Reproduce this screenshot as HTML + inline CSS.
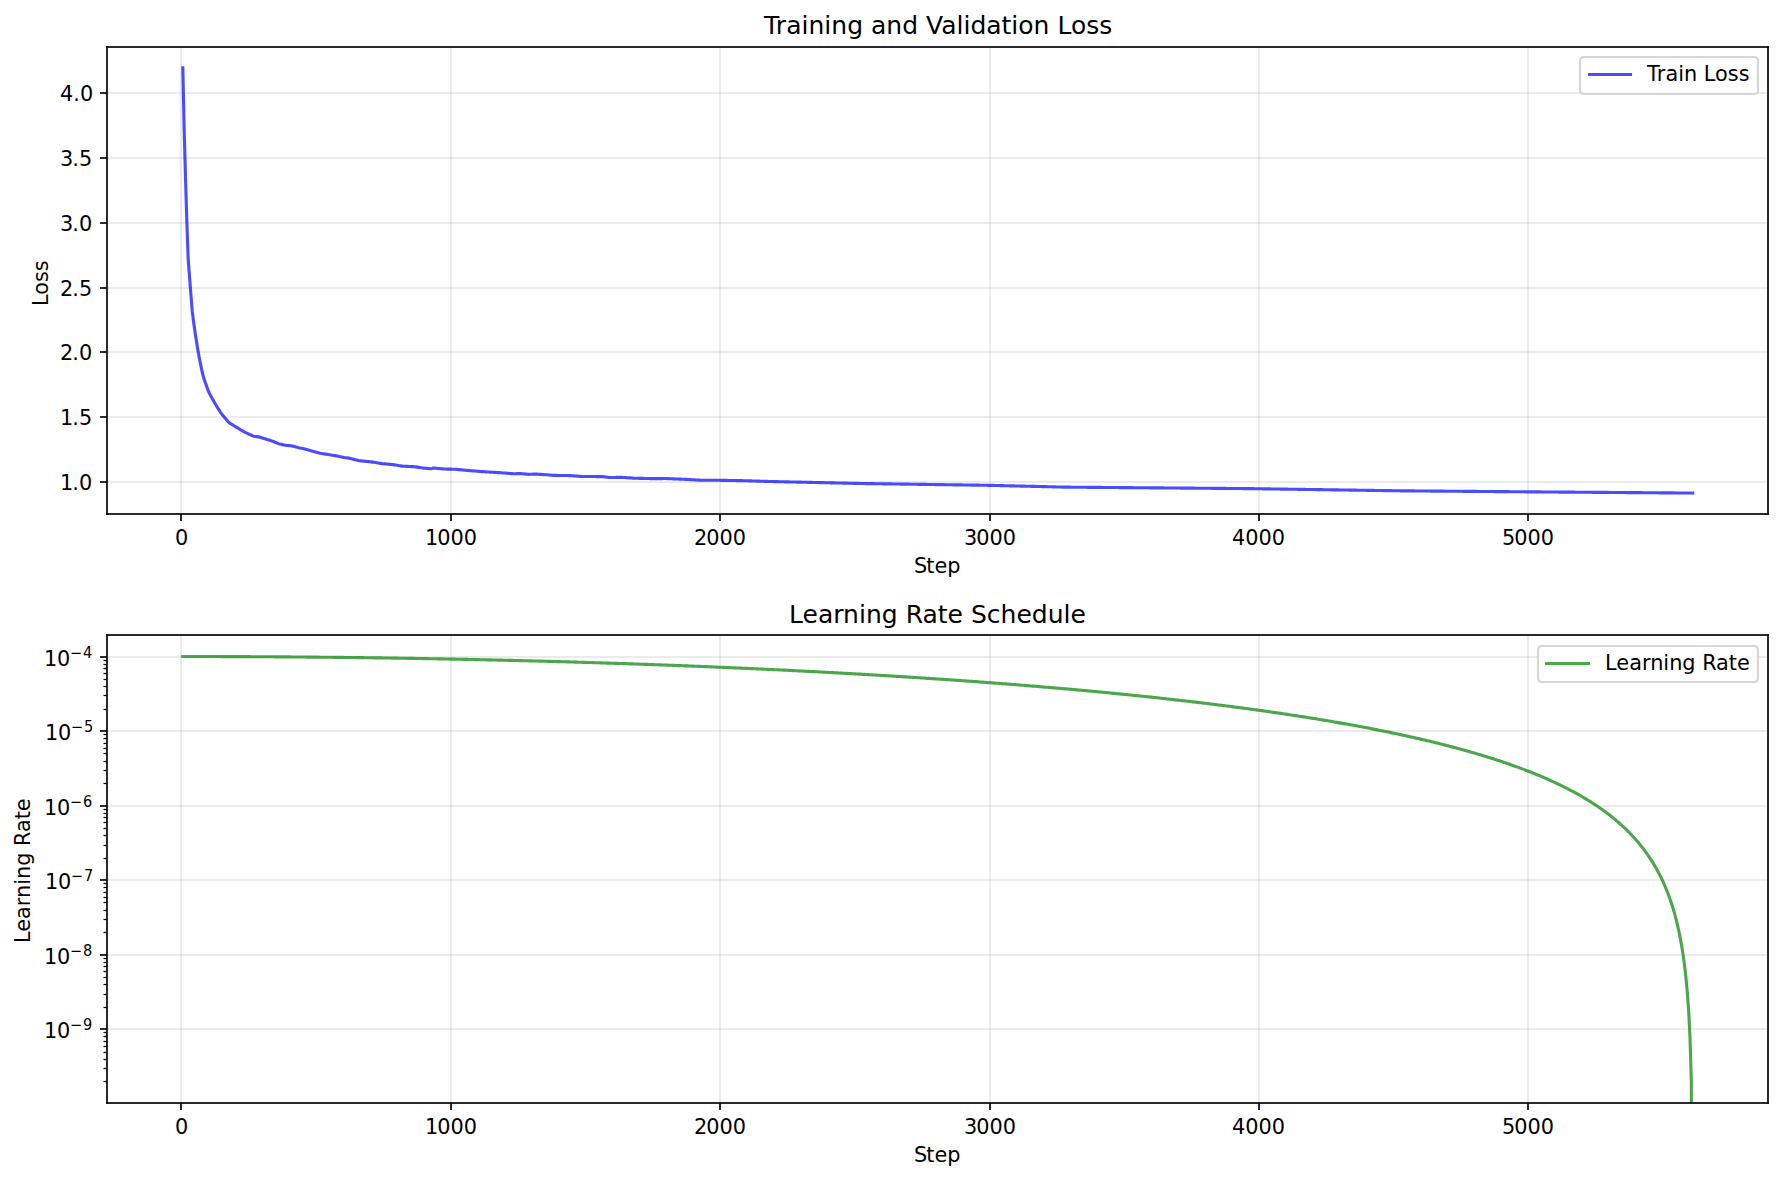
<!DOCTYPE html>
<html lang="en"><head><meta charset="utf-8"><title>Training curves</title>
<style>
html,body{margin:0;padding:0;background:#fff}
body{width:1783px;height:1181px;overflow:hidden}
svg{display:block}
text{font-family:"DejaVu Sans","Liberation Sans",sans-serif;fill:#000}
.t{font-size:20.8333px}
.tt{font-size:25.0000px}
.sup{font-size:14.5833px}
</style></head><body>
<svg width="1783" height="1181" viewBox="0 0 1783 1181">
<rect x="0" y="0" width="1783" height="1181" fill="#ffffff"/>
<defs><clipPath id="c1"><rect x="107.339" y="46.500" width="1660.839" height="467.833"/></clipPath><clipPath id="c2"><rect x="107.339" y="635.250" width="1660.839" height="467.833"/></clipPath></defs>
<g id="axes1">
<g stroke="#b0b0b0" stroke-opacity="0.3" stroke-width="1.6667" fill="none" clip-path="url(#c1)">
<line x1="181" y1="514" x2="181" y2="47"/><line x1="451" y1="514" x2="451" y2="47"/><line x1="720" y1="514" x2="720" y2="47"/><line x1="990" y1="514" x2="990" y2="47"/><line x1="1259" y1="514" x2="1259" y2="47"/><line x1="1528" y1="514" x2="1528" y2="47"/><rect x="107" y="92.1667" width="1661" height="1.6667" fill="#b0b0b0" fill-opacity="0.3" stroke="none"/><rect x="107" y="157.1667" width="1661" height="1.6667" fill="#b0b0b0" fill-opacity="0.3" stroke="none"/><rect x="107" y="222.1667" width="1661" height="1.6667" fill="#b0b0b0" fill-opacity="0.3" stroke="none"/><rect x="107" y="287.1667" width="1661" height="1.6667" fill="#b0b0b0" fill-opacity="0.3" stroke="none"/><rect x="107" y="351.1667" width="1661" height="1.6667" fill="#b0b0b0" fill-opacity="0.3" stroke="none"/><rect x="107" y="416.1667" width="1661" height="1.6667" fill="#b0b0b0" fill-opacity="0.3" stroke="none"/><rect x="107" y="481.1667" width="1661" height="1.6667" fill="#b0b0b0" fill-opacity="0.3" stroke="none"/>
</g>
<g stroke="#000" stroke-width="1.6667" fill="none">
<line x1="181" y1="514" x2="181" y2="521"/><line x1="451" y1="514" x2="451" y2="521"/><line x1="720" y1="514" x2="720" y2="521"/><line x1="990" y1="514" x2="990" y2="521"/><line x1="1259" y1="514" x2="1259" y2="521"/><line x1="1528" y1="514" x2="1528" y2="521"/><line x1="100" y1="93" x2="107" y2="93"/><line x1="100" y1="158" x2="107" y2="158"/><line x1="100" y1="223" x2="107" y2="223"/><line x1="100" y1="288" x2="107" y2="288"/><line x1="100" y1="352" x2="107" y2="352"/><line x1="100" y1="417" x2="107" y2="417"/><line x1="100" y1="482" x2="107" y2="482"/>
</g>
<g class="t">
<text x="175.000" y="544.90">0</text><text x="425.000 437.250 450.500 463.750" y="544.90">1000</text><text x="694.000 706.250 719.500 732.750" y="544.90">2000</text><text x="964.000 976.250 989.500 1002.750" y="544.90">3000</text><text x="1232.000 1245.250 1258.500 1271.750" y="544.90">4000</text><text x="1502.000 1514.250 1527.500 1540.750" y="544.90">5000</text>
<text x="60.000 73.250 79.875" y="100.90">4.0</text><text x="60.000 72.250 78.875" y="165.90">3.5</text><text x="60.000 72.250 78.875" y="230.90">3.0</text><text x="60.000 72.250 78.875" y="295.90">2.5</text><text x="60.000 72.250 78.875" y="359.90">2.0</text><text x="60.000 72.250 78.875" y="424.90">1.5</text><text x="60.000 72.250 78.875" y="489.90">1.0</text>
</g>
<path d="M182.83 67.77 L184.18 130.51 L185.53 178.53 L186.87 222.43 L188.22 259.98 L189.57 277.31 L190.91 294.70 L192.26 311.40 L193.61 322.10 L194.95 331.48 L196.30 340.34 L197.65 348.70 L198.99 356.17 L200.34 363.02 L201.69 369.59 L203.04 375.41 L204.38 380.03 L205.73 383.80 L207.08 387.55 L208.42 391.13 L209.77 394.09 L211.12 396.51 L212.46 398.93 L213.81 401.35 L215.16 403.77 L216.50 405.93 L217.85 408.05 L219.20 410.17 L220.54 412.30 L221.89 414.17 L223.24 415.79 L224.59 417.42 L225.93 419.05 L227.28 420.67 L228.63 422.30 L229.97 423.28 L231.32 424.10 L232.67 424.92 L234.01 425.73 L235.36 426.55 L236.71 427.37 L238.05 428.18 L239.40 428.99 L240.75 429.79 L242.09 430.59 L243.44 431.40 L244.79 432.20 L246.14 432.84 L247.48 433.45 L248.83 434.06 L250.18 434.67 L251.52 435.28 L252.87 435.89 L254.22 436.25 L255.56 436.45 L256.91 436.66 L258.26 436.86 L259.60 437.10 L260.95 437.53 L262.30 437.96 L263.64 438.40 L264.99 438.83 L266.34 439.25 L267.69 439.66 L269.03 440.07 L270.38 440.48 L271.73 440.89 L273.07 441.38 L274.42 441.95 L275.77 442.53 L277.11 443.11 L278.46 443.68 L279.81 444.05 L281.15 444.35 L282.50 444.65 L283.85 444.94 L285.19 445.24 L286.54 445.41 L287.89 445.53 L289.24 445.65 L290.58 445.77 L291.93 445.89 L293.28 446.18 L294.62 446.57 L295.97 446.96 L297.32 447.35 L298.66 447.70 L300.01 447.98 L301.36 448.25 L302.70 448.53 L304.05 448.80 L305.40 449.17 L306.75 449.54 L308.09 449.92 L309.44 450.29 L310.79 450.67 L312.13 451.05 L313.48 451.42 L314.83 451.80 L316.17 452.18 L317.52 452.55 L318.87 452.93 L320.21 453.31 L321.56 453.51 L322.91 453.71 L324.25 453.90 L325.60 454.10 L326.95 454.29 L328.30 454.50 L329.64 454.73 L330.99 454.96 L332.34 455.19 L333.68 455.43 L335.03 455.66 L336.38 455.89 L337.72 456.14 L339.07 456.44 L340.42 456.73 L341.76 457.03 L343.11 457.32 L344.46 457.61 L345.80 457.78 L347.15 457.87 L348.50 458.03 L349.85 458.37 L351.19 458.71 L352.54 459.05 L353.89 459.39 L355.23 459.73 L356.58 460.07 L357.93 460.41 L359.27 460.74 L360.62 460.86 L361.97 460.98 L363.31 461.10 L364.66 461.22 L366.01 461.34 L367.35 461.46 L368.70 461.59 L370.05 461.71 L371.40 461.90 L372.74 462.11 L374.09 462.33 L375.44 462.54 L376.78 462.75 L378.13 462.96 L379.48 463.17 L380.82 463.38 L382.17 463.59 L383.52 463.74 L384.86 463.87 L386.21 464.00 L387.56 464.14 L388.90 464.27 L390.25 464.40 L391.60 464.53 L392.95 464.67 L394.29 464.84 L395.64 465.05 L396.99 465.26 L398.33 465.47 L399.68 465.68 L401.03 465.89 L402.37 466.10 L403.72 466.19 L405.07 466.25 L406.41 466.32 L407.76 466.39 L409.11 466.45 L410.45 466.52 L411.80 466.59 L413.15 466.65 L414.50 466.72 L415.84 466.91 L417.19 467.13 L418.54 467.35 L419.88 467.56 L421.23 467.78 L422.58 467.99 L423.92 468.14 L425.27 468.27 L426.62 468.41 L427.96 468.54 L429.31 468.67 L430.66 468.81 L432.00 468.48 L433.35 468.05 L434.70 468.15 L436.05 468.28 L437.39 468.41 L438.74 468.53 L440.09 468.66 L441.43 468.79 L442.78 468.92 L444.13 469.03 L445.47 469.06 L446.82 469.09 L448.17 469.11 L449.51 469.14 L450.86 469.17 L452.21 469.19 L453.56 469.22 L454.90 469.30 L456.25 469.43 L457.60 469.55 L458.94 469.67 L460.29 469.79 L461.64 469.92 L462.98 470.04 L464.33 470.16 L465.68 470.28 L467.02 470.40 L468.37 470.50 L469.72 470.61 L471.06 470.72 L472.41 470.82 L473.76 470.93 L475.11 471.04 L476.45 471.14 L477.80 471.25 L479.15 471.36 L480.49 471.46 L481.84 471.57 L483.19 471.68 L484.53 471.78 L485.88 471.89 L487.23 471.98 L488.57 472.05 L489.92 472.12 L491.27 472.20 L492.61 472.27 L493.96 472.35 L495.31 472.42 L496.66 472.50 L498.00 472.57 L499.35 472.64 L500.70 472.73 L502.04 472.84 L503.39 472.94 L504.74 473.05 L506.08 473.15 L507.43 473.26 L508.78 473.36 L510.12 473.47 L511.47 473.57 L512.82 473.68 L514.16 473.72 L515.51 473.70 L516.86 473.68 L518.21 473.66 L519.55 473.65 L520.90 473.66 L522.25 473.77 L523.59 473.89 L524.94 474.01 L526.29 474.12 L527.63 474.24 L528.98 474.32 L530.33 474.27 L531.67 474.23 L533.02 474.18 L534.37 474.13 L535.71 474.09 L537.06 474.16 L538.41 474.25 L539.76 474.34 L541.10 474.43 L542.45 474.52 L543.80 474.61 L545.14 474.70 L546.49 474.80 L547.84 474.91 L549.18 475.01 L550.53 475.12 L551.88 475.22 L553.22 475.33 L554.57 475.39 L555.92 475.41 L557.26 475.42 L558.61 475.44 L559.96 475.46 L561.31 475.47 L562.65 475.49 L564.00 475.51 L565.35 475.52 L566.69 475.54 L568.04 475.56 L569.39 475.57 L570.73 475.64 L572.08 475.74 L573.43 475.85 L574.77 475.96 L576.12 476.06 L577.47 476.17 L578.82 476.27 L580.16 476.38 L581.51 476.43 L582.86 476.44 L584.20 476.45 L585.55 476.46 L586.90 476.46 L588.24 476.47 L589.59 476.48 L590.94 476.50 L592.28 476.52 L593.63 476.54 L594.98 476.56 L596.32 476.58 L597.67 476.60 L599.02 476.62 L600.37 476.64 L601.71 476.66 L603.06 476.68 L604.41 476.83 L605.75 477.00 L607.10 477.18 L608.45 477.35 L609.79 477.48 L611.14 477.47 L612.49 477.46 L613.83 477.45 L615.18 477.44 L616.53 477.42 L617.87 477.41 L619.22 477.40 L620.57 477.39 L621.92 477.38 L623.26 477.46 L624.61 477.55 L625.96 477.64 L627.30 477.73 L628.65 477.83 L630.00 477.92 L631.34 478.01 L632.69 478.10 L634.04 478.19 L635.38 478.25 L636.73 478.28 L638.08 478.31 L639.42 478.34 L640.77 478.37 L642.12 478.40 L643.47 478.43 L644.81 478.46 L646.16 478.49 L647.51 478.52 L648.85 478.54 L650.20 478.57 L651.55 478.60 L652.89 478.63 L654.24 478.66 L655.59 478.67 L656.93 478.65 L658.28 478.63 L659.63 478.62 L660.97 478.60 L662.32 478.58 L663.67 478.56 L665.02 478.54 L666.36 478.55 L667.71 478.61 L669.06 478.66 L670.40 478.72 L671.75 478.78 L673.10 478.83 L674.44 478.89 L675.79 478.94 L677.14 479.00 L678.48 479.05 L679.83 479.11 L681.18 479.16 L682.52 479.22 L683.87 479.28 L685.22 479.33 L686.57 479.39 L687.91 479.47 L689.26 479.55 L690.61 479.63 L691.95 479.71 L693.30 479.79 L694.65 479.87 L695.99 479.95 L697.34 480.03 L698.69 480.11 L700.03 480.18 L701.38 480.19 L702.73 480.19 L704.08 480.20 L705.42 480.21 L706.77 480.22 L708.12 480.22 L709.46 480.23 L710.81 480.24 L712.16 480.24 L713.50 480.25 L714.85 480.26 L716.20 480.26 L717.54 480.27 L718.89 480.28 L720.24 480.29 L721.58 480.32 L722.93 480.34 L724.28 480.36 L725.63 480.39 L726.97 480.41 L728.32 480.44 L729.67 480.46 L731.01 480.48 L732.36 480.51 L733.71 480.53 L735.05 480.56 L736.40 480.58 L737.75 480.60 L739.09 480.63 L740.44 480.65 L741.79 480.68 L743.13 480.70 L744.48 480.72 L745.83 480.76 L747.18 480.80 L748.52 480.84 L749.87 480.88 L751.22 480.92 L752.56 480.96 L753.91 481.00 L755.26 481.04 L756.60 481.08 L757.95 481.12 L759.30 481.16 L760.64 481.20 L761.99 481.24 L763.34 481.28 L764.68 481.32 L766.03 481.36 L767.38 481.40 L768.73 481.44 L770.07 481.48 L771.42 481.52 L772.77 481.55 L774.11 481.58 L775.46 481.61 L776.81 481.64 L778.15 481.67 L779.50 481.70 L780.85 481.73 L782.19 481.76 L783.54 481.79 L784.89 481.82 L786.23 481.85 L787.58 481.88 L788.93 481.91 L790.28 481.94 L791.62 481.97 L792.97 482.00 L794.32 482.03 L795.66 482.06 L797.01 482.09 L798.36 482.12 L799.70 482.14 L801.05 482.17 L802.40 482.20 L803.74 482.23 L805.09 482.26 L806.44 482.29 L807.78 482.32 L809.13 482.35 L810.48 482.38 L811.83 482.41 L813.17 482.44 L814.52 482.47 L815.87 482.50 L817.21 482.53 L818.56 482.56 L819.91 482.59 L821.25 482.62 L822.60 482.65 L823.95 482.68 L825.29 482.71 L826.64 482.73 L827.99 482.76 L829.33 482.79 L830.68 482.82 L832.03 482.85 L833.38 482.88 L834.72 482.91 L836.07 482.94 L837.42 482.97 L838.76 483.00 L840.11 483.03 L841.46 483.06 L842.80 483.09 L844.15 483.12 L845.50 483.15 L846.84 483.18 L848.19 483.21 L849.54 483.24 L850.89 483.27 L852.23 483.29 L853.58 483.32 L854.93 483.35 L856.27 483.38 L857.62 483.41 L858.97 483.44 L860.31 483.47 L861.66 483.50 L863.01 483.53 L864.35 483.55 L865.70 483.57 L867.05 483.59 L868.39 483.61 L869.74 483.63 L871.09 483.65 L872.44 483.66 L873.78 483.68 L875.13 483.70 L876.48 483.72 L877.82 483.74 L879.17 483.76 L880.52 483.78 L881.86 483.80 L883.21 483.82 L884.56 483.84 L885.90 483.86 L887.25 483.88 L888.60 483.90 L889.94 483.91 L891.29 483.93 L892.64 483.95 L893.99 483.97 L895.33 483.99 L896.68 484.01 L898.03 484.03 L899.37 484.05 L900.72 484.07 L902.07 484.09 L903.41 484.11 L904.76 484.13 L906.11 484.14 L907.45 484.16 L908.80 484.18 L910.15 484.20 L911.49 484.22 L912.84 484.24 L914.19 484.26 L915.54 484.28 L916.88 484.30 L918.23 484.32 L919.58 484.34 L920.92 484.36 L922.27 484.38 L923.62 484.39 L924.96 484.41 L926.31 484.43 L927.66 484.45 L929.00 484.47 L930.35 484.49 L931.70 484.51 L933.04 484.53 L934.39 484.55 L935.74 484.57 L937.09 484.59 L938.43 484.61 L939.78 484.62 L941.13 484.64 L942.47 484.66 L943.82 484.68 L945.17 484.70 L946.51 484.72 L947.86 484.74 L949.21 484.76 L950.55 484.78 L951.90 484.80 L953.25 484.82 L954.59 484.84 L955.94 484.85 L957.29 484.87 L958.64 484.89 L959.98 484.91 L961.33 484.93 L962.68 484.95 L964.02 484.97 L965.37 484.99 L966.72 485.01 L968.06 485.03 L969.41 485.05 L970.76 485.07 L972.10 485.09 L973.45 485.10 L974.80 485.12 L976.15 485.14 L977.49 485.16 L978.84 485.18 L980.19 485.20 L981.53 485.22 L982.88 485.24 L984.23 485.26 L985.57 485.28 L986.92 485.30 L988.27 485.32 L989.61 485.34 L990.96 485.37 L992.31 485.40 L993.65 485.43 L995.00 485.47 L996.35 485.50 L997.70 485.53 L999.04 485.56 L1000.39 485.59 L1001.74 485.63 L1003.08 485.66 L1004.43 485.69 L1005.78 485.72 L1007.12 485.75 L1008.47 485.79 L1009.82 485.82 L1011.16 485.85 L1012.51 485.88 L1013.86 485.91 L1015.20 485.95 L1016.55 485.98 L1017.90 486.01 L1019.25 486.04 L1020.59 486.07 L1021.94 486.11 L1023.29 486.14 L1024.63 486.17 L1025.98 486.20 L1027.33 486.23 L1028.67 486.27 L1030.02 486.30 L1031.37 486.33 L1032.71 486.36 L1034.06 486.39 L1035.41 486.43 L1036.75 486.46 L1038.10 486.49 L1039.45 486.52 L1040.80 486.55 L1042.14 486.59 L1043.49 486.62 L1044.84 486.65 L1046.18 486.68 L1047.53 486.71 L1048.88 486.75 L1050.22 486.78 L1051.57 486.81 L1052.92 486.84 L1054.26 486.88 L1055.61 486.91 L1056.96 486.94 L1058.30 486.97 L1059.65 487.00 L1061.00 487.04 L1062.35 487.07 L1063.69 487.10 L1065.04 487.13 L1066.39 487.14 L1067.73 487.15 L1069.08 487.16 L1070.43 487.17 L1071.77 487.19 L1073.12 487.20 L1074.47 487.21 L1075.81 487.22 L1077.16 487.23 L1078.51 487.24 L1079.85 487.25 L1081.20 487.26 L1082.55 487.27 L1083.90 487.28 L1085.24 487.29 L1086.59 487.31 L1087.94 487.32 L1089.28 487.33 L1090.63 487.34 L1091.98 487.35 L1093.32 487.36 L1094.67 487.37 L1096.02 487.38 L1097.36 487.39 L1098.71 487.40 L1100.06 487.41 L1101.41 487.43 L1102.75 487.44 L1104.10 487.45 L1105.45 487.46 L1106.79 487.47 L1108.14 487.48 L1109.49 487.49 L1110.83 487.50 L1112.18 487.51 L1113.53 487.52 L1114.87 487.53 L1116.22 487.55 L1117.57 487.56 L1118.91 487.57 L1120.26 487.58 L1121.61 487.59 L1122.96 487.60 L1124.30 487.61 L1125.65 487.62 L1127.00 487.63 L1128.34 487.64 L1129.69 487.65 L1131.04 487.67 L1132.38 487.68 L1133.73 487.69 L1135.08 487.70 L1136.42 487.71 L1137.77 487.72 L1139.12 487.73 L1140.46 487.74 L1141.81 487.75 L1143.16 487.76 L1144.51 487.77 L1145.85 487.79 L1147.20 487.80 L1148.55 487.81 L1149.89 487.82 L1151.24 487.83 L1152.59 487.84 L1153.93 487.85 L1155.28 487.86 L1156.63 487.87 L1157.97 487.88 L1159.32 487.90 L1160.67 487.91 L1162.01 487.92 L1163.36 487.93 L1164.71 487.94 L1166.06 487.95 L1167.40 487.96 L1168.75 487.97 L1170.10 487.98 L1171.44 487.99 L1172.79 488.00 L1174.14 488.02 L1175.48 488.03 L1176.83 488.04 L1178.18 488.05 L1179.52 488.06 L1180.87 488.07 L1182.22 488.08 L1183.56 488.09 L1184.91 488.10 L1186.26 488.11 L1187.61 488.12 L1188.95 488.14 L1190.30 488.15 L1191.65 488.16 L1192.99 488.17 L1194.34 488.18 L1195.69 488.19 L1197.03 488.20 L1198.38 488.21 L1199.73 488.22 L1201.07 488.23 L1202.42 488.24 L1203.77 488.26 L1205.11 488.27 L1206.46 488.28 L1207.81 488.29 L1209.16 488.30 L1210.50 488.31 L1211.85 488.32 L1213.20 488.33 L1214.54 488.34 L1215.89 488.35 L1217.24 488.36 L1218.58 488.38 L1219.93 488.39 L1221.28 488.40 L1222.62 488.41 L1223.97 488.42 L1225.32 488.43 L1226.67 488.44 L1228.01 488.45 L1229.36 488.46 L1230.71 488.47 L1232.05 488.48 L1233.40 488.50 L1234.75 488.51 L1236.09 488.52 L1237.44 488.53 L1238.79 488.54 L1240.13 488.55 L1241.48 488.56 L1242.83 488.57 L1244.17 488.58 L1245.52 488.59 L1246.87 488.60 L1248.22 488.62 L1249.56 488.63 L1250.91 488.64 L1252.26 488.66 L1253.60 488.68 L1254.95 488.70 L1256.30 488.72 L1257.64 488.74 L1258.99 488.76 L1260.34 488.78 L1261.68 488.80 L1263.03 488.82 L1264.38 488.84 L1265.72 488.86 L1267.07 488.88 L1268.42 488.90 L1269.77 488.92 L1271.11 488.94 L1272.46 488.96 L1273.81 488.98 L1275.15 489.00 L1276.50 489.02 L1277.85 489.03 L1279.19 489.05 L1280.54 489.07 L1281.89 489.09 L1283.23 489.11 L1284.58 489.13 L1285.93 489.15 L1287.27 489.17 L1288.62 489.19 L1289.97 489.21 L1291.32 489.23 L1292.66 489.25 L1294.01 489.27 L1295.36 489.29 L1296.70 489.31 L1298.05 489.33 L1299.40 489.35 L1300.74 489.37 L1302.09 489.39 L1303.44 489.41 L1304.78 489.43 L1306.13 489.45 L1307.48 489.47 L1308.82 489.49 L1310.17 489.50 L1311.52 489.52 L1312.87 489.54 L1314.21 489.56 L1315.56 489.58 L1316.91 489.60 L1318.25 489.62 L1319.60 489.64 L1320.95 489.66 L1322.29 489.68 L1323.64 489.70 L1324.99 489.72 L1326.33 489.74 L1327.68 489.76 L1329.03 489.78 L1330.37 489.80 L1331.72 489.82 L1333.07 489.84 L1334.42 489.86 L1335.76 489.88 L1337.11 489.90 L1338.46 489.92 L1339.80 489.94 L1341.15 489.95 L1342.50 489.97 L1343.84 489.99 L1345.19 490.01 L1346.54 490.03 L1347.88 490.05 L1349.23 490.07 L1350.58 490.09 L1351.92 490.11 L1353.27 490.13 L1354.62 490.15 L1355.97 490.17 L1357.31 490.19 L1358.66 490.21 L1360.01 490.23 L1361.35 490.25 L1362.70 490.27 L1364.05 490.29 L1365.39 490.31 L1366.74 490.33 L1368.09 490.35 L1369.43 490.37 L1370.78 490.39 L1372.13 490.40 L1373.48 490.42 L1374.82 490.44 L1376.17 490.46 L1377.52 490.48 L1378.86 490.50 L1380.21 490.52 L1381.56 490.54 L1382.90 490.56 L1384.25 490.58 L1385.60 490.60 L1386.94 490.62 L1388.29 490.64 L1389.64 490.66 L1390.98 490.68 L1392.33 490.70 L1393.68 490.72 L1395.03 490.74 L1396.37 490.76 L1397.72 490.78 L1399.07 490.80 L1400.41 490.82 L1401.76 490.83 L1403.11 490.84 L1404.45 490.85 L1405.80 490.87 L1407.15 490.88 L1408.49 490.89 L1409.84 490.90 L1411.19 490.91 L1412.53 490.92 L1413.88 490.93 L1415.23 490.94 L1416.58 490.95 L1417.92 490.96 L1419.27 490.97 L1420.62 490.98 L1421.96 490.99 L1423.31 491.00 L1424.66 491.01 L1426.00 491.03 L1427.35 491.04 L1428.70 491.05 L1430.04 491.06 L1431.39 491.07 L1432.74 491.08 L1434.08 491.09 L1435.43 491.10 L1436.78 491.11 L1438.13 491.12 L1439.47 491.13 L1440.82 491.14 L1442.17 491.15 L1443.51 491.16 L1444.86 491.17 L1446.21 491.19 L1447.55 491.20 L1448.90 491.21 L1450.25 491.22 L1451.59 491.23 L1452.94 491.24 L1454.29 491.25 L1455.63 491.26 L1456.98 491.27 L1458.33 491.28 L1459.68 491.29 L1461.02 491.30 L1462.37 491.31 L1463.72 491.32 L1465.06 491.33 L1466.41 491.35 L1467.76 491.36 L1469.10 491.37 L1470.45 491.38 L1471.80 491.39 L1473.14 491.40 L1474.49 491.41 L1475.84 491.42 L1477.18 491.43 L1478.53 491.44 L1479.88 491.45 L1481.23 491.46 L1482.57 491.47 L1483.92 491.48 L1485.27 491.49 L1486.61 491.51 L1487.96 491.52 L1489.31 491.53 L1490.65 491.54 L1492.00 491.55 L1493.35 491.56 L1494.69 491.57 L1496.04 491.58 L1497.39 491.59 L1498.74 491.60 L1500.08 491.61 L1501.43 491.62 L1502.78 491.63 L1504.12 491.64 L1505.47 491.65 L1506.82 491.67 L1508.16 491.68 L1509.51 491.69 L1510.86 491.70 L1512.20 491.71 L1513.55 491.72 L1514.90 491.73 L1516.24 491.74 L1517.59 491.75 L1518.94 491.76 L1520.29 491.77 L1521.63 491.78 L1522.98 491.79 L1524.33 491.80 L1525.67 491.82 L1527.02 491.83 L1528.37 491.84 L1529.71 491.85 L1531.06 491.86 L1532.41 491.87 L1533.75 491.88 L1535.10 491.89 L1536.45 491.90 L1537.79 491.91 L1539.14 491.92 L1540.49 491.93 L1541.84 491.94 L1543.18 491.95 L1544.53 491.96 L1545.88 491.97 L1547.22 491.98 L1548.57 491.99 L1549.92 492.00 L1551.26 492.01 L1552.61 492.02 L1553.96 492.03 L1555.30 492.04 L1556.65 492.05 L1558.00 492.06 L1559.34 492.07 L1560.69 492.08 L1562.04 492.09 L1563.39 492.10 L1564.73 492.11 L1566.08 492.12 L1567.43 492.13 L1568.77 492.14 L1570.12 492.15 L1571.47 492.16 L1572.81 492.17 L1574.16 492.18 L1575.51 492.19 L1576.85 492.20 L1578.20 492.21 L1579.55 492.22 L1580.89 492.23 L1582.24 492.24 L1583.59 492.25 L1584.94 492.26 L1586.28 492.27 L1587.63 492.28 L1588.98 492.29 L1590.32 492.30 L1591.67 492.31 L1593.02 492.32 L1594.36 492.33 L1595.71 492.34 L1597.06 492.35 L1598.40 492.36 L1599.75 492.37 L1601.10 492.38 L1602.44 492.39 L1603.79 492.40 L1605.14 492.41 L1606.49 492.42 L1607.83 492.43 L1609.18 492.44 L1610.53 492.45 L1611.87 492.46 L1613.22 492.47 L1614.57 492.48 L1615.91 492.49 L1617.26 492.50 L1618.61 492.51 L1619.95 492.52 L1621.30 492.53 L1622.65 492.54 L1624.00 492.55 L1625.34 492.56 L1626.69 492.57 L1628.04 492.58 L1629.38 492.59 L1630.73 492.60 L1632.08 492.61 L1633.42 492.62 L1634.77 492.63 L1636.12 492.64 L1637.46 492.65 L1638.81 492.66 L1640.16 492.67 L1641.50 492.68 L1642.85 492.69 L1644.20 492.70 L1645.55 492.71 L1646.89 492.72 L1648.24 492.73 L1649.59 492.75 L1650.93 492.76 L1652.28 492.77 L1653.63 492.78 L1654.97 492.79 L1656.32 492.80 L1657.67 492.81 L1659.01 492.82 L1660.36 492.83 L1661.71 492.84 L1663.05 492.85 L1664.40 492.86 L1665.75 492.87 L1667.10 492.88 L1668.44 492.89 L1669.79 492.90 L1671.14 492.91 L1672.48 492.92 L1673.83 492.93 L1675.18 492.94 L1676.52 492.95 L1677.87 492.96 L1679.22 492.97 L1680.56 492.98 L1681.91 492.99 L1683.26 493.00 L1684.60 493.01 L1685.95 493.02 L1687.30 493.03 L1688.65 493.04 L1689.99 493.05 L1691.34 493.06 L1692.69 493.07" fill="none" stroke="#0000ff" stroke-opacity="0.7" stroke-width="3.125" stroke-linejoin="round" stroke-linecap="square" clip-path="url(#c1)"/>
<g fill="#000" stroke="none"><rect x="106.1667" y="46.1666" width="1.6667" height="468.6667"/><rect x="1767.1666" y="46.1666" width="1.6667" height="468.6667"/><rect x="106.1667" y="513.1667" width="1662.6667" height="1.6667"/><rect x="106.1667" y="46.1666" width="1662.6667" height="1.6667"/></g>
<text class="t" x="914.000 926.250 934.375 947.250" y="573.25">Step</text>
<text class="t" transform="translate(48.30,304.00) rotate(-90)" x="-2.000 9.250 22.000 32.875" y="0">Loss</text>
<text class="tt" x="764.000 775.750 786.125 801.375 808.375 824.250 831.250 847.125 863.000 871.000 886.250 902.125 918.000 926.000 941.125 956.375 963.375 970.375 986.250 1001.500 1011.250 1018.250 1033.500 1049.375 1057.375 1070.875 1086.125 1099.250" y="34.00">Training and Validation Loss</text>
<path d="M1584 57 L1754 57 Q1758 57 1758 61 L1758 89 Q1758 94 1754 94 L1584 94 Q1580 94 1580 89 L1580 61 Q1580 57 1584 57 Z" fill="#fff" fill-opacity="0.8" stroke="#cccccc" stroke-opacity="0.8" stroke-width="2.0833" stroke-linejoin="miter"/>
<line x1="1589.50" y1="74.50" x2="1630.50" y2="74.50" stroke="#0000ff" stroke-opacity="0.7" stroke-width="3.125" stroke-linecap="square"/>
<text class="t" x="1647.000 1656.750 1665.375 1678.125 1684.000 1697.125 1703.750 1715.000 1727.750 1738.625" y="81.25">Train Loss</text>
</g>
<g id="axes2">
<g stroke="#b0b0b0" stroke-opacity="0.3" stroke-width="1.6667" fill="none" clip-path="url(#c2)">
<line x1="181" y1="1103" x2="181" y2="635"/><line x1="451" y1="1103" x2="451" y2="635"/><line x1="720" y1="1103" x2="720" y2="635"/><line x1="990" y1="1103" x2="990" y2="635"/><line x1="1259" y1="1103" x2="1259" y2="635"/><line x1="1528" y1="1103" x2="1528" y2="635"/><rect x="107" y="656.1667" width="1661" height="1.6667" fill="#b0b0b0" fill-opacity="0.3" stroke="none"/><rect x="107" y="730.1667" width="1661" height="1.6667" fill="#b0b0b0" fill-opacity="0.3" stroke="none"/><rect x="107" y="805.1667" width="1661" height="1.6667" fill="#b0b0b0" fill-opacity="0.3" stroke="none"/><rect x="107" y="879.1667" width="1661" height="1.6667" fill="#b0b0b0" fill-opacity="0.3" stroke="none"/><rect x="107" y="954.1667" width="1661" height="1.6667" fill="#b0b0b0" fill-opacity="0.3" stroke="none"/><rect x="107" y="1028.1666" width="1661" height="1.6667" fill="#b0b0b0" fill-opacity="0.3" stroke="none"/>
</g>
<g stroke="#000" stroke-width="1.6667" fill="none">
<line x1="181" y1="1103" x2="181" y2="1110"/><line x1="451" y1="1103" x2="451" y2="1110"/><line x1="720" y1="1103" x2="720" y2="1110"/><line x1="990" y1="1103" x2="990" y2="1110"/><line x1="1259" y1="1103" x2="1259" y2="1110"/><line x1="1528" y1="1103" x2="1528" y2="1110"/><line x1="100" y1="657" x2="107" y2="657"/><line x1="100" y1="731" x2="107" y2="731"/><line x1="100" y1="806" x2="107" y2="806"/><line x1="100" y1="880" x2="107" y2="880"/><line x1="100" y1="955" x2="107" y2="955"/><line x1="100" y1="1029" x2="107" y2="1029"/>
</g>
<g stroke="#000" stroke-width="1.25" fill="none">
<line x1="103.5" y1="1081.5" x2="107" y2="1081.5"/><line x1="103.5" y1="1068.5" x2="107" y2="1068.5"/><line x1="103.5" y1="1059.5" x2="107" y2="1059.5"/><line x1="103.5" y1="1052.5" x2="107" y2="1052.5"/><line x1="103.5" y1="1046.5" x2="107" y2="1046.5"/><line x1="103.5" y1="1041.5" x2="107" y2="1041.5"/><line x1="103.5" y1="1036.5" x2="107" y2="1036.5"/><line x1="103.5" y1="1032.5" x2="107" y2="1032.5"/><line x1="103.5" y1="1007.5" x2="107" y2="1007.5"/><line x1="103.5" y1="994.5" x2="107" y2="994.5"/><line x1="103.5" y1="984.5" x2="107" y2="984.5"/><line x1="103.5" y1="977.5" x2="107" y2="977.5"/><line x1="103.5" y1="971.5" x2="107" y2="971.5"/><line x1="103.5" y1="966.5" x2="107" y2="966.5"/><line x1="103.5" y1="962.5" x2="107" y2="962.5"/><line x1="103.5" y1="958.5" x2="107" y2="958.5"/><line x1="103.5" y1="932.5" x2="107" y2="932.5"/><line x1="103.5" y1="919.5" x2="107" y2="919.5"/><line x1="103.5" y1="910.5" x2="107" y2="910.5"/><line x1="103.5" y1="902.5" x2="107" y2="902.5"/><line x1="103.5" y1="897.5" x2="107" y2="897.5"/><line x1="103.5" y1="892.5" x2="107" y2="892.5"/><line x1="103.5" y1="887.5" x2="107" y2="887.5"/><line x1="103.5" y1="883.5" x2="107" y2="883.5"/><line x1="103.5" y1="858.5" x2="107" y2="858.5"/><line x1="103.5" y1="845.5" x2="107" y2="845.5"/><line x1="103.5" y1="835.5" x2="107" y2="835.5"/><line x1="103.5" y1="828.5" x2="107" y2="828.5"/><line x1="103.5" y1="822.5" x2="107" y2="822.5"/><line x1="103.5" y1="817.5" x2="107" y2="817.5"/><line x1="103.5" y1="813.5" x2="107" y2="813.5"/><line x1="103.5" y1="809.5" x2="107" y2="809.5"/><line x1="103.5" y1="783.5" x2="107" y2="783.5"/><line x1="103.5" y1="770.5" x2="107" y2="770.5"/><line x1="103.5" y1="761.5" x2="107" y2="761.5"/><line x1="103.5" y1="753.5" x2="107" y2="753.5"/><line x1="103.5" y1="748.5" x2="107" y2="748.5"/><line x1="103.5" y1="743.5" x2="107" y2="743.5"/><line x1="103.5" y1="738.5" x2="107" y2="738.5"/><line x1="103.5" y1="734.5" x2="107" y2="734.5"/><line x1="103.5" y1="709.5" x2="107" y2="709.5"/><line x1="103.5" y1="695.5" x2="107" y2="695.5"/><line x1="103.5" y1="686.5" x2="107" y2="686.5"/><line x1="103.5" y1="679.5" x2="107" y2="679.5"/><line x1="103.5" y1="673.5" x2="107" y2="673.5"/><line x1="103.5" y1="668.5" x2="107" y2="668.5"/><line x1="103.5" y1="664.5" x2="107" y2="664.5"/><line x1="103.5" y1="660.5" x2="107" y2="660.5"/>
</g>
<g class="t">
<text x="175.000" y="1133.67">0</text><text x="425.000 437.250 450.500 463.750" y="1133.67">1000</text><text x="694.000 706.250 719.500 732.750" y="1133.67">2000</text><text x="964.000 976.250 989.500 1002.750" y="1133.67">3000</text><text x="1232.000 1245.250 1258.500 1271.750" y="1133.67">4000</text><text x="1502.000 1514.250 1527.500 1540.750" y="1133.67">5000</text>
<text x="44.070 57.050" y="665.60">10</text><text class="sup" x="82.07" y="657.60" text-anchor="end">−</text><text class="sup" transform="translate(92.19,657.60) scale(1,1.12)" text-anchor="end">4</text><text x="45.070 58.050" y="739.60">10</text><text class="sup" x="83.07" y="731.60" text-anchor="end">−</text><text class="sup" transform="translate(93.19,731.60) scale(1,1.12)" text-anchor="end">5</text><text x="44.070 57.050" y="814.60">10</text><text class="sup" x="82.07" y="806.60" text-anchor="end">−</text><text class="sup" transform="translate(92.19,806.60) scale(1,1.12)" text-anchor="end">6</text><text x="45.070 58.050" y="888.60">10</text><text class="sup" x="83.07" y="880.60" text-anchor="end">−</text><text class="sup" transform="translate(93.19,880.60) scale(1,1.12)" text-anchor="end">7</text><text x="44.070 57.050" y="963.60">10</text><text class="sup" x="82.07" y="955.60" text-anchor="end">−</text><text class="sup" transform="translate(92.19,955.60) scale(1,1.12)" text-anchor="end">8</text><text x="44.070 57.050" y="1037.60">10</text><text class="sup" x="82.07" y="1029.60" text-anchor="end">−</text><text class="sup" transform="translate(92.19,1029.60) scale(1,1.12)" text-anchor="end">9</text>
</g>
<path d="M182.83 656.52 L184.18 656.52 L185.53 656.52 L186.87 656.52 L188.22 656.52 L189.57 656.52 L190.91 656.52 L192.26 656.52 L193.61 656.52 L194.95 656.52 L196.30 656.52 L197.65 656.52 L198.99 656.53 L200.34 656.53 L201.69 656.53 L203.04 656.53 L204.38 656.53 L205.73 656.54 L207.08 656.54 L208.42 656.54 L209.77 656.54 L211.12 656.55 L212.46 656.55 L213.81 656.55 L215.16 656.55 L216.50 656.56 L217.85 656.56 L219.20 656.56 L220.54 656.57 L221.89 656.57 L223.24 656.58 L224.59 656.58 L225.93 656.58 L227.28 656.59 L228.63 656.59 L229.97 656.60 L231.32 656.60 L232.67 656.61 L234.01 656.61 L235.36 656.62 L236.71 656.62 L238.05 656.63 L239.40 656.63 L240.75 656.64 L242.09 656.64 L243.44 656.65 L244.79 656.66 L246.14 656.66 L247.48 656.67 L248.83 656.67 L250.18 656.68 L251.52 656.69 L252.87 656.69 L254.22 656.70 L255.56 656.71 L256.91 656.71 L258.26 656.72 L259.60 656.73 L260.95 656.74 L262.30 656.74 L263.64 656.75 L264.99 656.76 L266.34 656.77 L267.69 656.78 L269.03 656.78 L270.38 656.79 L271.73 656.80 L273.07 656.81 L274.42 656.82 L275.77 656.83 L277.11 656.84 L278.46 656.84 L279.81 656.85 L281.15 656.86 L282.50 656.87 L283.85 656.88 L285.19 656.89 L286.54 656.90 L287.89 656.91 L289.24 656.92 L290.58 656.93 L291.93 656.94 L293.28 656.95 L294.62 656.96 L295.97 656.97 L297.32 656.99 L298.66 657.00 L300.01 657.01 L301.36 657.02 L302.70 657.03 L304.05 657.04 L305.40 657.05 L306.75 657.07 L308.09 657.08 L309.44 657.09 L310.79 657.10 L312.13 657.11 L313.48 657.13 L314.83 657.14 L316.17 657.15 L317.52 657.16 L318.87 657.18 L320.21 657.19 L321.56 657.20 L322.91 657.22 L324.25 657.23 L325.60 657.24 L326.95 657.26 L328.30 657.27 L329.64 657.29 L330.99 657.30 L332.34 657.31 L333.68 657.33 L335.03 657.34 L336.38 657.36 L337.72 657.37 L339.07 657.39 L340.42 657.40 L341.76 657.42 L343.11 657.43 L344.46 657.45 L345.80 657.46 L347.15 657.48 L348.50 657.50 L349.85 657.51 L351.19 657.53 L352.54 657.54 L353.89 657.56 L355.23 657.58 L356.58 657.59 L357.93 657.61 L359.27 657.63 L360.62 657.64 L361.97 657.66 L363.31 657.68 L364.66 657.70 L366.01 657.71 L367.35 657.73 L368.70 657.75 L370.05 657.77 L371.40 657.78 L372.74 657.80 L374.09 657.82 L375.44 657.84 L376.78 657.86 L378.13 657.88 L379.48 657.90 L380.82 657.91 L382.17 657.93 L383.52 657.95 L384.86 657.97 L386.21 657.99 L387.56 658.01 L388.90 658.03 L390.25 658.05 L391.60 658.07 L392.95 658.09 L394.29 658.11 L395.64 658.13 L396.99 658.15 L398.33 658.17 L399.68 658.19 L401.03 658.22 L402.37 658.24 L403.72 658.26 L405.07 658.28 L406.41 658.30 L407.76 658.32 L409.11 658.34 L410.45 658.37 L411.80 658.39 L413.15 658.41 L414.50 658.43 L415.84 658.45 L417.19 658.48 L418.54 658.50 L419.88 658.52 L421.23 658.55 L422.58 658.57 L423.92 658.59 L425.27 658.62 L426.62 658.64 L427.96 658.66 L429.31 658.69 L430.66 658.71 L432.00 658.73 L433.35 658.76 L434.70 658.78 L436.05 658.81 L437.39 658.83 L438.74 658.86 L440.09 658.88 L441.43 658.91 L442.78 658.93 L444.13 658.96 L445.47 658.98 L446.82 659.01 L448.17 659.03 L449.51 659.06 L450.86 659.09 L452.21 659.11 L453.56 659.14 L454.90 659.16 L456.25 659.19 L457.60 659.22 L458.94 659.24 L460.29 659.27 L461.64 659.30 L462.98 659.33 L464.33 659.35 L465.68 659.38 L467.02 659.41 L468.37 659.44 L469.72 659.46 L471.06 659.49 L472.41 659.52 L473.76 659.55 L475.11 659.58 L476.45 659.61 L477.80 659.63 L479.15 659.66 L480.49 659.69 L481.84 659.72 L483.19 659.75 L484.53 659.78 L485.88 659.81 L487.23 659.84 L488.57 659.87 L489.92 659.90 L491.27 659.93 L492.61 659.96 L493.96 659.99 L495.31 660.02 L496.66 660.05 L498.00 660.08 L499.35 660.11 L500.70 660.15 L502.04 660.18 L503.39 660.21 L504.74 660.24 L506.08 660.27 L507.43 660.30 L508.78 660.33 L510.12 660.37 L511.47 660.40 L512.82 660.43 L514.16 660.46 L515.51 660.50 L516.86 660.53 L518.21 660.56 L519.55 660.60 L520.90 660.63 L522.25 660.66 L523.59 660.70 L524.94 660.73 L526.29 660.76 L527.63 660.80 L528.98 660.83 L530.33 660.87 L531.67 660.90 L533.02 660.94 L534.37 660.97 L535.71 661.01 L537.06 661.04 L538.41 661.08 L539.76 661.11 L541.10 661.15 L542.45 661.18 L543.80 661.22 L545.14 661.25 L546.49 661.29 L547.84 661.33 L549.18 661.36 L550.53 661.40 L551.88 661.44 L553.22 661.47 L554.57 661.51 L555.92 661.55 L557.26 661.58 L558.61 661.62 L559.96 661.66 L561.31 661.70 L562.65 661.73 L564.00 661.77 L565.35 661.81 L566.69 661.85 L568.04 661.89 L569.39 661.92 L570.73 661.96 L572.08 662.00 L573.43 662.04 L574.77 662.08 L576.12 662.12 L577.47 662.16 L578.82 662.20 L580.16 662.24 L581.51 662.28 L582.86 662.32 L584.20 662.36 L585.55 662.40 L586.90 662.44 L588.24 662.48 L589.59 662.52 L590.94 662.56 L592.28 662.60 L593.63 662.65 L594.98 662.69 L596.32 662.73 L597.67 662.77 L599.02 662.81 L600.37 662.85 L601.71 662.90 L603.06 662.94 L604.41 662.98 L605.75 663.02 L607.10 663.07 L608.45 663.11 L609.79 663.15 L611.14 663.20 L612.49 663.24 L613.83 663.28 L615.18 663.33 L616.53 663.37 L617.87 663.42 L619.22 663.46 L620.57 663.50 L621.92 663.55 L623.26 663.59 L624.61 663.64 L625.96 663.68 L627.30 663.73 L628.65 663.77 L630.00 663.82 L631.34 663.86 L632.69 663.91 L634.04 663.96 L635.38 664.00 L636.73 664.05 L638.08 664.10 L639.42 664.14 L640.77 664.19 L642.12 664.24 L643.47 664.28 L644.81 664.33 L646.16 664.38 L647.51 664.43 L648.85 664.47 L650.20 664.52 L651.55 664.57 L652.89 664.62 L654.24 664.67 L655.59 664.71 L656.93 664.76 L658.28 664.81 L659.63 664.86 L660.97 664.91 L662.32 664.96 L663.67 665.01 L665.02 665.06 L666.36 665.11 L667.71 665.16 L669.06 665.21 L670.40 665.26 L671.75 665.31 L673.10 665.36 L674.44 665.41 L675.79 665.46 L677.14 665.51 L678.48 665.57 L679.83 665.62 L681.18 665.67 L682.52 665.72 L683.87 665.77 L685.22 665.82 L686.57 665.88 L687.91 665.93 L689.26 665.98 L690.61 666.04 L691.95 666.09 L693.30 666.14 L694.65 666.20 L695.99 666.25 L697.34 666.30 L698.69 666.36 L700.03 666.41 L701.38 666.46 L702.73 666.52 L704.08 666.57 L705.42 666.63 L706.77 666.68 L708.12 666.74 L709.46 666.79 L710.81 666.85 L712.16 666.91 L713.50 666.96 L714.85 667.02 L716.20 667.07 L717.54 667.13 L718.89 667.19 L720.24 667.24 L721.58 667.30 L722.93 667.36 L724.28 667.41 L725.63 667.47 L726.97 667.53 L728.32 667.59 L729.67 667.64 L731.01 667.70 L732.36 667.76 L733.71 667.82 L735.05 667.88 L736.40 667.94 L737.75 668.00 L739.09 668.06 L740.44 668.12 L741.79 668.17 L743.13 668.23 L744.48 668.29 L745.83 668.35 L747.18 668.41 L748.52 668.48 L749.87 668.54 L751.22 668.60 L752.56 668.66 L753.91 668.72 L755.26 668.78 L756.60 668.84 L757.95 668.90 L759.30 668.97 L760.64 669.03 L761.99 669.09 L763.34 669.15 L764.68 669.22 L766.03 669.28 L767.38 669.34 L768.73 669.40 L770.07 669.47 L771.42 669.53 L772.77 669.60 L774.11 669.66 L775.46 669.72 L776.81 669.79 L778.15 669.85 L779.50 669.92 L780.85 669.98 L782.19 670.05 L783.54 670.11 L784.89 670.18 L786.23 670.25 L787.58 670.31 L788.93 670.38 L790.28 670.44 L791.62 670.51 L792.97 670.58 L794.32 670.64 L795.66 670.71 L797.01 670.78 L798.36 670.85 L799.70 670.91 L801.05 670.98 L802.40 671.05 L803.74 671.12 L805.09 671.19 L806.44 671.26 L807.78 671.32 L809.13 671.39 L810.48 671.46 L811.83 671.53 L813.17 671.60 L814.52 671.67 L815.87 671.74 L817.21 671.81 L818.56 671.88 L819.91 671.95 L821.25 672.02 L822.60 672.10 L823.95 672.17 L825.29 672.24 L826.64 672.31 L827.99 672.38 L829.33 672.45 L830.68 672.53 L832.03 672.60 L833.38 672.67 L834.72 672.75 L836.07 672.82 L837.42 672.89 L838.76 672.97 L840.11 673.04 L841.46 673.11 L842.80 673.19 L844.15 673.26 L845.50 673.34 L846.84 673.41 L848.19 673.49 L849.54 673.56 L850.89 673.64 L852.23 673.71 L853.58 673.79 L854.93 673.87 L856.27 673.94 L857.62 674.02 L858.97 674.10 L860.31 674.17 L861.66 674.25 L863.01 674.33 L864.35 674.41 L865.70 674.48 L867.05 674.56 L868.39 674.64 L869.74 674.72 L871.09 674.80 L872.44 674.88 L873.78 674.96 L875.13 675.04 L876.48 675.12 L877.82 675.20 L879.17 675.28 L880.52 675.36 L881.86 675.44 L883.21 675.52 L884.56 675.60 L885.90 675.68 L887.25 675.76 L888.60 675.84 L889.94 675.93 L891.29 676.01 L892.64 676.09 L893.99 676.17 L895.33 676.26 L896.68 676.34 L898.03 676.42 L899.37 676.51 L900.72 676.59 L902.07 676.67 L903.41 676.76 L904.76 676.84 L906.11 676.93 L907.45 677.01 L908.80 677.10 L910.15 677.18 L911.49 677.27 L912.84 677.36 L914.19 677.44 L915.54 677.53 L916.88 677.61 L918.23 677.70 L919.58 677.79 L920.92 677.88 L922.27 677.96 L923.62 678.05 L924.96 678.14 L926.31 678.23 L927.66 678.32 L929.00 678.41 L930.35 678.50 L931.70 678.59 L933.04 678.68 L934.39 678.77 L935.74 678.86 L937.09 678.95 L938.43 679.04 L939.78 679.13 L941.13 679.22 L942.47 679.31 L943.82 679.40 L945.17 679.49 L946.51 679.59 L947.86 679.68 L949.21 679.77 L950.55 679.86 L951.90 679.96 L953.25 680.05 L954.59 680.15 L955.94 680.24 L957.29 680.33 L958.64 680.43 L959.98 680.52 L961.33 680.62 L962.68 680.71 L964.02 680.81 L965.37 680.91 L966.72 681.00 L968.06 681.10 L969.41 681.20 L970.76 681.29 L972.10 681.39 L973.45 681.49 L974.80 681.59 L976.15 681.68 L977.49 681.78 L978.84 681.88 L980.19 681.98 L981.53 682.08 L982.88 682.18 L984.23 682.28 L985.57 682.38 L986.92 682.48 L988.27 682.58 L989.61 682.68 L990.96 682.78 L992.31 682.88 L993.65 682.98 L995.00 683.09 L996.35 683.19 L997.70 683.29 L999.04 683.39 L1000.39 683.50 L1001.74 683.60 L1003.08 683.71 L1004.43 683.81 L1005.78 683.91 L1007.12 684.02 L1008.47 684.12 L1009.82 684.23 L1011.16 684.33 L1012.51 684.44 L1013.86 684.55 L1015.20 684.65 L1016.55 684.76 L1017.90 684.87 L1019.25 684.97 L1020.59 685.08 L1021.94 685.19 L1023.29 685.30 L1024.63 685.41 L1025.98 685.52 L1027.33 685.63 L1028.67 685.74 L1030.02 685.84 L1031.37 685.96 L1032.71 686.07 L1034.06 686.18 L1035.41 686.29 L1036.75 686.40 L1038.10 686.51 L1039.45 686.62 L1040.80 686.74 L1042.14 686.85 L1043.49 686.96 L1044.84 687.07 L1046.18 687.19 L1047.53 687.30 L1048.88 687.42 L1050.22 687.53 L1051.57 687.65 L1052.92 687.76 L1054.26 687.88 L1055.61 687.99 L1056.96 688.11 L1058.30 688.23 L1059.65 688.34 L1061.00 688.46 L1062.35 688.58 L1063.69 688.70 L1065.04 688.82 L1066.39 688.93 L1067.73 689.05 L1069.08 689.17 L1070.43 689.29 L1071.77 689.41 L1073.12 689.53 L1074.47 689.65 L1075.81 689.78 L1077.16 689.90 L1078.51 690.02 L1079.85 690.14 L1081.20 690.26 L1082.55 690.39 L1083.90 690.51 L1085.24 690.63 L1086.59 690.76 L1087.94 690.88 L1089.28 691.01 L1090.63 691.13 L1091.98 691.26 L1093.32 691.38 L1094.67 691.51 L1096.02 691.64 L1097.36 691.76 L1098.71 691.89 L1100.06 692.02 L1101.41 692.15 L1102.75 692.28 L1104.10 692.41 L1105.45 692.53 L1106.79 692.66 L1108.14 692.79 L1109.49 692.92 L1110.83 693.06 L1112.18 693.19 L1113.53 693.32 L1114.87 693.45 L1116.22 693.58 L1117.57 693.72 L1118.91 693.85 L1120.26 693.98 L1121.61 694.12 L1122.96 694.25 L1124.30 694.39 L1125.65 694.52 L1127.00 694.66 L1128.34 694.79 L1129.69 694.93 L1131.04 695.07 L1132.38 695.20 L1133.73 695.34 L1135.08 695.48 L1136.42 695.62 L1137.77 695.76 L1139.12 695.90 L1140.46 696.04 L1141.81 696.18 L1143.16 696.32 L1144.51 696.46 L1145.85 696.60 L1147.20 696.74 L1148.55 696.89 L1149.89 697.03 L1151.24 697.17 L1152.59 697.32 L1153.93 697.46 L1155.28 697.61 L1156.63 697.75 L1157.97 697.90 L1159.32 698.04 L1160.67 698.19 L1162.01 698.34 L1163.36 698.48 L1164.71 698.63 L1166.06 698.78 L1167.40 698.93 L1168.75 699.08 L1170.10 699.23 L1171.44 699.38 L1172.79 699.53 L1174.14 699.68 L1175.48 699.83 L1176.83 699.98 L1178.18 700.14 L1179.52 700.29 L1180.87 700.44 L1182.22 700.60 L1183.56 700.75 L1184.91 700.91 L1186.26 701.06 L1187.61 701.22 L1188.95 701.38 L1190.30 701.53 L1191.65 701.69 L1192.99 701.85 L1194.34 702.01 L1195.69 702.17 L1197.03 702.33 L1198.38 702.49 L1199.73 702.65 L1201.07 702.81 L1202.42 702.97 L1203.77 703.13 L1205.11 703.30 L1206.46 703.46 L1207.81 703.62 L1209.16 703.79 L1210.50 703.95 L1211.85 704.12 L1213.20 704.29 L1214.54 704.45 L1215.89 704.62 L1217.24 704.79 L1218.58 704.96 L1219.93 705.13 L1221.28 705.30 L1222.62 705.47 L1223.97 705.64 L1225.32 705.81 L1226.67 705.98 L1228.01 706.15 L1229.36 706.32 L1230.71 706.50 L1232.05 706.67 L1233.40 706.85 L1234.75 707.02 L1236.09 707.20 L1237.44 707.38 L1238.79 707.55 L1240.13 707.73 L1241.48 707.91 L1242.83 708.09 L1244.17 708.27 L1245.52 708.45 L1246.87 708.63 L1248.22 708.81 L1249.56 708.99 L1250.91 709.18 L1252.26 709.36 L1253.60 709.54 L1254.95 709.73 L1256.30 709.91 L1257.64 710.10 L1258.99 710.29 L1260.34 710.48 L1261.68 710.66 L1263.03 710.85 L1264.38 711.04 L1265.72 711.23 L1267.07 711.42 L1268.42 711.61 L1269.77 711.81 L1271.11 712.00 L1272.46 712.19 L1273.81 712.39 L1275.15 712.58 L1276.50 712.78 L1277.85 712.98 L1279.19 713.17 L1280.54 713.37 L1281.89 713.57 L1283.23 713.77 L1284.58 713.97 L1285.93 714.17 L1287.27 714.37 L1288.62 714.58 L1289.97 714.78 L1291.32 714.98 L1292.66 715.19 L1294.01 715.39 L1295.36 715.60 L1296.70 715.81 L1298.05 716.01 L1299.40 716.22 L1300.74 716.43 L1302.09 716.64 L1303.44 716.85 L1304.78 717.07 L1306.13 717.28 L1307.48 717.49 L1308.82 717.71 L1310.17 717.92 L1311.52 718.14 L1312.87 718.36 L1314.21 718.57 L1315.56 718.79 L1316.91 719.01 L1318.25 719.23 L1319.60 719.45 L1320.95 719.68 L1322.29 719.90 L1323.64 720.12 L1324.99 720.35 L1326.33 720.57 L1327.68 720.80 L1329.03 721.03 L1330.37 721.26 L1331.72 721.49 L1333.07 721.72 L1334.42 721.95 L1335.76 722.18 L1337.11 722.41 L1338.46 722.65 L1339.80 722.88 L1341.15 723.12 L1342.50 723.36 L1343.84 723.60 L1345.19 723.84 L1346.54 724.08 L1347.88 724.32 L1349.23 724.56 L1350.58 724.80 L1351.92 725.05 L1353.27 725.29 L1354.62 725.54 L1355.97 725.79 L1357.31 726.04 L1358.66 726.29 L1360.01 726.54 L1361.35 726.79 L1362.70 727.04 L1364.05 727.30 L1365.39 727.55 L1366.74 727.81 L1368.09 728.07 L1369.43 728.33 L1370.78 728.59 L1372.13 728.85 L1373.48 729.11 L1374.82 729.37 L1376.17 729.64 L1377.52 729.90 L1378.86 730.17 L1380.21 730.44 L1381.56 730.71 L1382.90 730.98 L1384.25 731.25 L1385.60 731.53 L1386.94 731.80 L1388.29 732.08 L1389.64 732.35 L1390.98 732.63 L1392.33 732.91 L1393.68 733.19 L1395.03 733.48 L1396.37 733.76 L1397.72 734.05 L1399.07 734.33 L1400.41 734.62 L1401.76 734.91 L1403.11 735.20 L1404.45 735.50 L1405.80 735.79 L1407.15 736.09 L1408.49 736.38 L1409.84 736.68 L1411.19 736.98 L1412.53 737.28 L1413.88 737.59 L1415.23 737.89 L1416.58 738.20 L1417.92 738.50 L1419.27 738.81 L1420.62 739.12 L1421.96 739.44 L1423.31 739.75 L1424.66 740.07 L1426.00 740.38 L1427.35 740.70 L1428.70 741.03 L1430.04 741.35 L1431.39 741.67 L1432.74 742.00 L1434.08 742.33 L1435.43 742.66 L1436.78 742.99 L1438.13 743.32 L1439.47 743.66 L1440.82 743.99 L1442.17 744.33 L1443.51 744.67 L1444.86 745.02 L1446.21 745.36 L1447.55 745.71 L1448.90 746.06 L1450.25 746.41 L1451.59 746.76 L1452.94 747.12 L1454.29 747.47 L1455.63 747.83 L1456.98 748.19 L1458.33 748.56 L1459.68 748.92 L1461.02 749.29 L1462.37 749.66 L1463.72 750.03 L1465.06 750.41 L1466.41 750.79 L1467.76 751.16 L1469.10 751.55 L1470.45 751.93 L1471.80 752.32 L1473.14 752.71 L1474.49 753.10 L1475.84 753.49 L1477.18 753.89 L1478.53 754.29 L1479.88 754.69 L1481.23 755.09 L1482.57 755.50 L1483.92 755.91 L1485.27 756.32 L1486.61 756.74 L1487.96 757.15 L1489.31 757.58 L1490.65 758.00 L1492.00 758.43 L1493.35 758.86 L1494.69 759.29 L1496.04 759.72 L1497.39 760.16 L1498.74 760.60 L1500.08 761.05 L1501.43 761.50 L1502.78 761.95 L1504.12 762.40 L1505.47 762.86 L1506.82 763.32 L1508.16 763.79 L1509.51 764.26 L1510.86 764.73 L1512.20 765.20 L1513.55 765.68 L1514.90 766.16 L1516.24 766.65 L1517.59 767.14 L1518.94 767.64 L1520.29 768.13 L1521.63 768.64 L1522.98 769.14 L1524.33 769.65 L1525.67 770.17 L1527.02 770.69 L1528.37 771.21 L1529.71 771.74 L1531.06 772.27 L1532.41 772.81 L1533.75 773.35 L1535.10 773.89 L1536.45 774.44 L1537.79 775.00 L1539.14 775.56 L1540.49 776.12 L1541.84 776.70 L1543.18 777.27 L1544.53 777.85 L1545.88 778.44 L1547.22 779.03 L1548.57 779.63 L1549.92 780.23 L1551.26 780.84 L1552.61 781.46 L1553.96 782.08 L1555.30 782.70 L1556.65 783.34 L1558.00 783.98 L1559.34 784.62 L1560.69 785.28 L1562.04 785.94 L1563.39 786.60 L1564.73 787.28 L1566.08 787.96 L1567.43 788.64 L1568.77 789.34 L1570.12 790.04 L1571.47 790.76 L1572.81 791.47 L1574.16 792.20 L1575.51 792.94 L1576.85 793.68 L1578.20 794.44 L1579.55 795.20 L1580.89 795.97 L1582.24 796.75 L1583.59 797.54 L1584.94 798.34 L1586.28 799.15 L1587.63 799.97 L1588.98 800.81 L1590.32 801.65 L1591.67 802.50 L1593.02 803.37 L1594.36 804.25 L1595.71 805.14 L1597.06 806.04 L1598.40 806.95 L1599.75 807.88 L1601.10 808.82 L1602.44 809.78 L1603.79 810.75 L1605.14 811.74 L1606.49 812.74 L1607.83 813.75 L1609.18 814.79 L1610.53 815.84 L1611.87 816.90 L1613.22 817.99 L1614.57 819.09 L1615.91 820.21 L1617.26 821.36 L1618.61 822.52 L1619.95 823.71 L1621.30 824.91 L1622.65 826.15 L1624.00 827.40 L1625.34 828.68 L1626.69 829.98 L1628.04 831.32 L1629.38 832.68 L1630.73 834.07 L1632.08 835.49 L1633.42 836.94 L1634.77 838.43 L1636.12 839.95 L1637.46 841.51 L1638.81 843.10 L1640.16 844.74 L1641.50 846.42 L1642.85 848.14 L1644.20 849.92 L1645.55 851.74 L1646.89 853.61 L1648.24 855.54 L1649.59 857.53 L1650.93 859.59 L1652.28 861.71 L1653.63 863.90 L1654.97 866.17 L1656.32 868.52 L1657.67 870.96 L1659.01 873.50 L1660.36 876.14 L1661.71 878.90 L1663.05 881.77 L1664.40 884.78 L1665.75 887.94 L1667.10 891.26 L1668.44 894.76 L1669.79 898.45 L1671.14 902.38 L1672.48 906.55 L1673.83 911.02 L1675.18 915.81 L1676.52 920.99 L1677.87 926.63 L1679.22 932.79 L1680.56 939.61 L1681.91 947.24 L1683.26 955.88 L1684.60 965.85 L1685.95 977.65 L1687.30 992.10 L1688.65 1010.71 L1689.99 1036.96 L1691.34 1081.82 L1692.69 75603.08" fill="none" stroke="#008000" stroke-opacity="0.7" stroke-width="3.125" stroke-linejoin="round" stroke-linecap="square" clip-path="url(#c2)"/>
<g fill="#000" stroke="none"><rect x="106.1667" y="634.1667" width="1.6667" height="469.6667"/><rect x="1767.1666" y="634.1667" width="1.6667" height="469.6667"/><rect x="106.1667" y="1102.1666" width="1662.6667" height="1.6667"/><rect x="106.1667" y="634.1667" width="1662.6667" height="1.6667"/></g>
<text class="t" x="914.000 926.250 934.375 947.250" y="1162.00">Step</text>
<text class="t" transform="translate(30.00,943.00) rotate(-90)" x="0.000 11.250 24.125 36.875 45.125 58.250 64.125 77.250 90.500 97.125 111.000 123.750 131.875" y="0">Learning Rate</text>
<text class="tt" x="789.000 802.500 817.875 833.125 843.000 858.875 865.875 881.750 897.625 905.625 922.500 937.750 947.500 962.875 970.875 986.750 1000.500 1016.375 1031.750 1047.625 1063.500 1070.500" y="622.75">Learning Rate Schedule</text>
<path d="M1542 646 L1754 646 Q1758 646 1758 650 L1758 678 Q1758 682 1754 682 L1542 682 Q1538 682 1538 678 L1538 650 Q1538 646 1542 646 Z" fill="#fff" fill-opacity="0.8" stroke="#cccccc" stroke-opacity="0.8" stroke-width="2.0833" stroke-linejoin="miter"/>
<line x1="1546.50" y1="663.50" x2="1588.50" y2="663.50" stroke="#008000" stroke-opacity="0.7" stroke-width="3.125" stroke-linecap="square"/>
<text class="t" x="1605.000 1616.250 1629.125 1641.875 1650.125 1663.250 1669.125 1682.250 1695.500 1702.125 1716.000 1728.750 1736.875" y="670.00">Learning Rate</text>
</g>
</svg>
</body></html>
